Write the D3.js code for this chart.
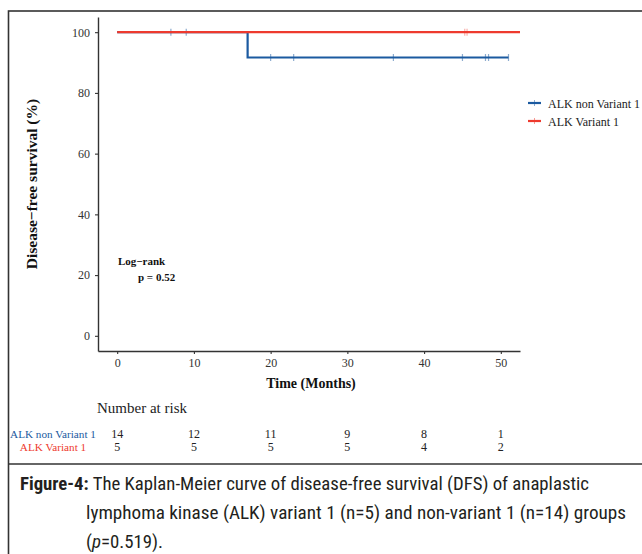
<!DOCTYPE html>
<html><head><meta charset="utf-8">
<script src="https://cdn.jsdelivr.net/npm/d3@7"></script>
<style>body{margin:0;background:#fff}svg{display:block}</style>
</head><body>
<script>
// ---- data ----
const groups = ["ALK non Variant 1", "ALK Variant 1"];
const colors = ["#1b5aa0", "#ee3a2e"];
const blueTimes = [0, 17, 51];
const blueSurv = [100, 91.67, 91.67];
const redTimes = [0, 52.5];
const redSurv = [100, 100];
const blueCensor = [7, 9, 20, 23, 36, 45, 48, 48.4, 51];
const redCensor = [45.3, 45.6];
const xTicks = [0, 10, 20, 30, 40, 50];
const yTicks = [0, 20, 40, 60, 80, 100];
const riskBlue = [14, 12, 11, 9, 8, 1];
const riskRed = [5, 5, 5, 5, 4, 2];
const pText = ["Log\u2212rank", "p = 0.52"];

const W = 642, H = 554;
const svg = d3.select("body").append("svg").attr("width", W).attr("height", H);
const serif = "'Liberation Serif', 'Times New Roman', serif";

// frame
svg.append("rect").attr("x", 8.5).attr("y", 11).attr("width", 640).attr("height", 560)
  .attr("fill", "none").attr("stroke", "#333").attr("stroke-width", 1.6);
svg.append("line").attr("x1", 8).attr("x2", 642).attr("y1", 464).attr("y2", 464)
  .attr("stroke", "#333").attr("stroke-width", 1.6);

const x = d3.scaleLinear().domain([-2.5, 52.5]).range([98, 520]);
const y = d3.scaleLinear().domain([-5, 105]).range([351, 17]);

// axes
const gx = svg.append("g").attr("transform", "translate(0,351)")
  .call(d3.axisBottom(x).tickValues(xTicks).tickSize(3).tickSizeOuter(0).tickPadding(4));
const gy = svg.append("g").attr("transform", "translate(98,0)")
  .call(d3.axisLeft(y).tickValues(yTicks).tickSize(3).tickSizeOuter(0).tickPadding(5));
[gx, gy].forEach(g => {
  g.select(".domain").attr("stroke", "#333").attr("stroke-width", 1.4);
  g.selectAll(".tick line").attr("stroke", "#333").attr("stroke-width", 1.1);
  g.selectAll(".tick text").attr("fill", "#333").style("font-family", serif).style("font-size", "12px");
});

// curves
const stepLine = d3.line().x(d => x(d[0])).y(d => y(d[1])).curve(d3.curveStepAfter);
svg.append("clipPath").attr("id", "pc").append("rect")
  .attr("x", 98).attr("y", 17).attr("width", 422).attr("height", 334);
const plot = svg.append("g").attr("clip-path", "url(#pc)");

function survAt(times, surv, t) {
  let v = surv[0];
  for (let i = 0; i < times.length; i++) if (times[i] <= t) v = surv[i];
  return v;
}
// blue curve
plot.append("path").datum(blueTimes.map((t, i) => [t, blueSurv[i]]))
  .attr("d", stepLine).attr("fill", "none").attr("stroke", colors[0]).attr("stroke-width", 2.2);
plot.selectAll(".cb").data(blueCensor).enter().append("line")
  .attr("x1", d => x(d)).attr("x2", d => x(d))
  .attr("y1", d => y(survAt(blueTimes, blueSurv, d)) - 3.5)
  .attr("y2", d => y(survAt(blueTimes, blueSurv, d)) + 3.5)
  .attr("stroke", colors[0]).attr("stroke-opacity", 0.5).attr("stroke-width", 1.2);
// red curve
plot.append("path").datum(redTimes.map((t, i) => [t, redSurv[i]]))
  .attr("d", stepLine).attr("fill", "none").attr("stroke", colors[1]).attr("stroke-width", 2.2);
plot.selectAll(".cr").data(redCensor).enter().append("line")
  .attr("x1", d => x(d)).attr("x2", d => x(d))
  .attr("y1", d => y(survAt(redTimes, redSurv, d)) - 3.5)
  .attr("y2", d => y(survAt(redTimes, redSurv, d)) + 3.5)
  .attr("stroke", colors[1]).attr("stroke-opacity", 0.4).attr("stroke-width", 1.2);

// p-value
svg.append("text").attr("x", 118).attr("y", 265).text(pText[0])
  .style("font-family", serif).style("font-weight", "bold").style("font-size", "11px").attr("fill", "#111");
svg.append("text").attr("x", 138).attr("y", 281).text(pText[1])
  .style("font-family", serif).style("font-weight", "bold").style("font-size", "11px").attr("fill", "#111");

// axis titles
svg.append("text").attr("x", 311).attr("y", 388).attr("text-anchor", "middle").text("Time (Months)")
  .style("font-family", serif).style("font-weight", "bold").style("font-size", "14px").attr("fill", "#111");
svg.append("text").attr("transform", "translate(37,184) rotate(-90)").attr("text-anchor", "middle")
  .text("Disease\u2212free survival (%)")
  .style("font-family", serif).style("font-weight", "bold").style("font-size", "15.5px").attr("fill", "#111");

// legend
const leg = svg.append("g");
groups.forEach((g, i) => {
  const ly = 103 + i * 18;
  leg.append("line").attr("x1", 528).attr("x2", 541).attr("y1", ly).attr("y2", ly)
    .attr("stroke", colors[i]).attr("stroke-width", 2.2);
  leg.append("line").attr("x1", 534.5).attr("x2", 534.5).attr("y1", ly - 3).attr("y2", ly + 3)
    .attr("stroke", colors[i]).attr("stroke-opacity", 0.5).attr("stroke-width", 1);
  leg.append("text").attr("x", 548).attr("y", ly + 4.5).text(g)
    .style("font-family", serif).style("font-size", "12px").attr("fill", "#222");
});

// risk table
svg.append("text").attr("x", 97).attr("y", 413).text("Number at risk")
  .style("font-family", serif).style("font-size", "15px").attr("fill", "#222");
[riskBlue, riskRed].forEach((row, i) => {
  const ry = 438 + i * 12.5;
  svg.append("text").attr("x", 53).attr("y", ry).attr("text-anchor", "middle").text(groups[i])
    .style("font-family", serif).style("font-size", "11.2px").attr("fill", colors[i]);
  svg.selectAll(null).data(row).enter().append("text")
    .attr("x", (d, j) => x(xTicks[j])).attr("y", ry).attr("text-anchor", "middle").text(d => d)
    .style("font-family", serif).style("font-size", "12px").attr("fill", "#222");
});

// caption
const cf = "'Liberation Sans Narrow', 'Roboto Condensed', 'Open Sans', sans-serif";
const c1 = svg.append("text").attr("x", 20).attr("y", 490).attr("textLength", 569).attr("lengthAdjust", "spacingAndGlyphs")
  .style("font-family", cf).style("font-size", "19px").attr("fill", "#231f20");
c1.append("tspan").style("font-weight", "bold").text("Figure-4:");
c1.append("tspan").text(" The Kaplan-Meier curve of disease-free survival (DFS) of anaplastic");
svg.append("text").attr("x", 86).attr("y", 519).attr("textLength", 540).attr("lengthAdjust", "spacingAndGlyphs")
  .style("font-family", cf).style("font-size", "19px").attr("fill", "#231f20")
  .text("lymphoma kinase (ALK) variant 1 (n=5) and non-variant 1 (n=14) groups");
const c3 = svg.append("text").attr("x", 86).attr("y", 548).attr("textLength", 77).attr("lengthAdjust", "spacingAndGlyphs")
  .style("font-family", cf).style("font-size", "19px").attr("fill", "#231f20");
c3.append("tspan").text("(");
c3.append("tspan").style("font-style", "italic").text("p");
c3.append("tspan").text("=0.519).");
</script>
</body></html>
